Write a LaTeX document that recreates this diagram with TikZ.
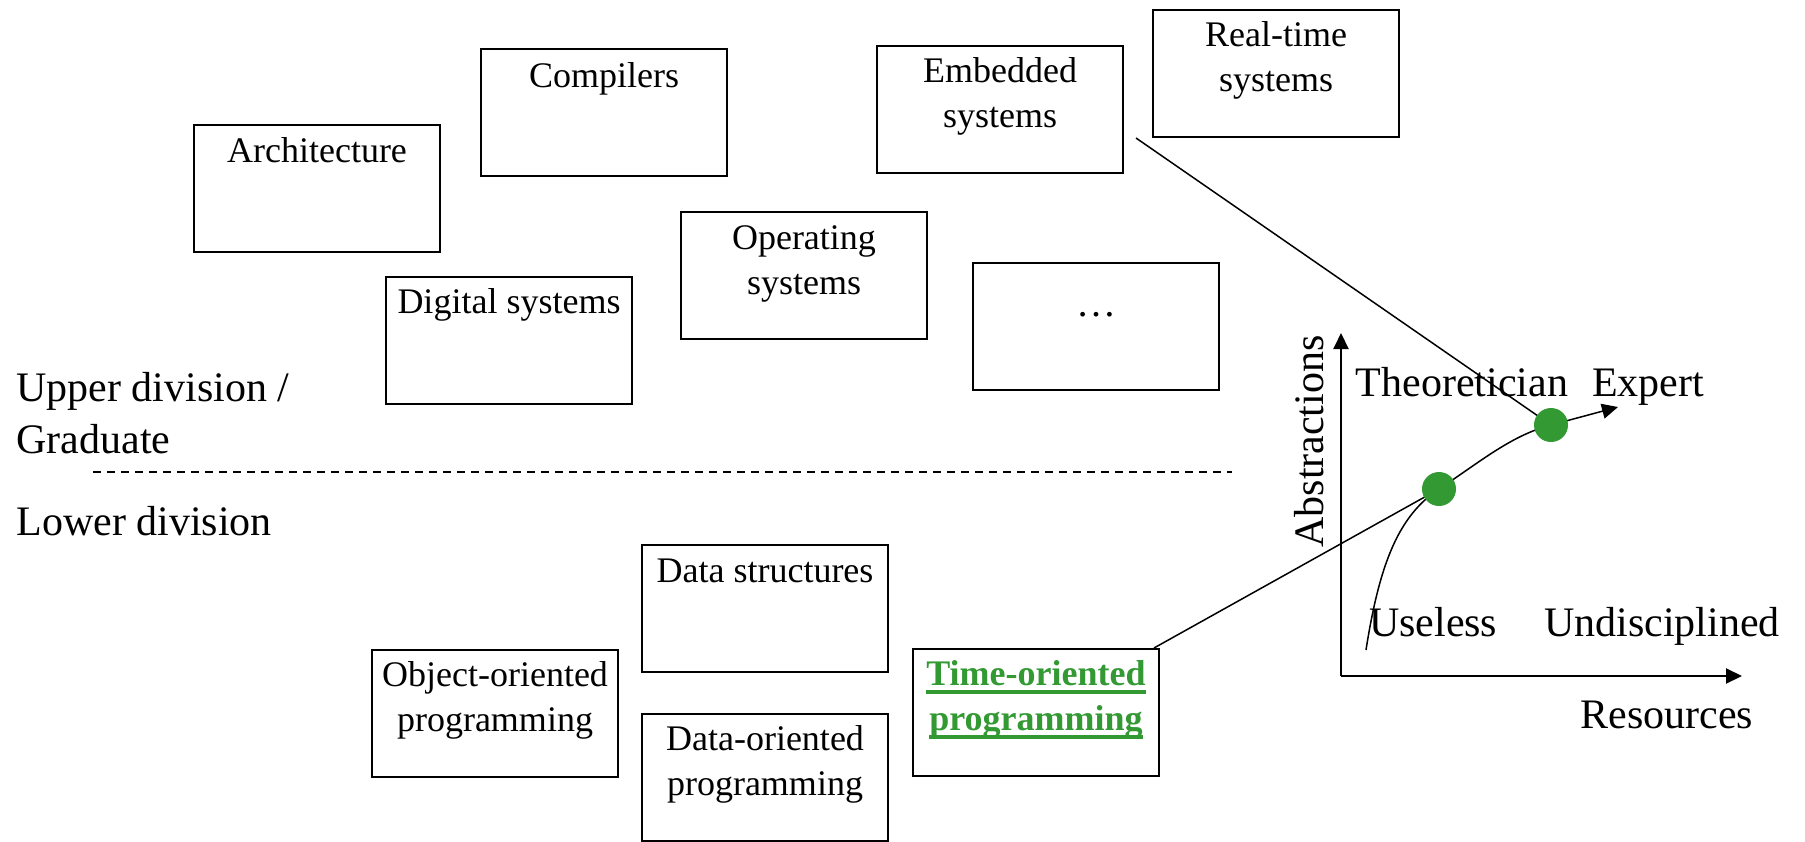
\documentclass[tikz,border=0pt]{standalone}
\usepackage{fontspec}
\setmainfont{Liberation Serif}
\usetikzlibrary{calc,arrows.meta}
\definecolor{tgreen}{HTML}{339933}
% top-aligned stack of centred lines
\newcommand{\stk}[1]{\begin{tabular}[t]{@{}c@{}}#1\end{tabular}}
% thick underline drawn through the descenders
\newcommand{\gul}[1]{\setbox0\hbox{#1}\rlap{\rule[-4.3pt]{\wd0}{1.8pt}}\box0}
\tikzset{
  box/.style={draw, line width=1pt, minimum width=123pt, minimum height=63.5pt,
              inner sep=0pt, anchor=north west},
  boxtxt/.style={anchor=base, inner sep=0pt, font=\fontsize{18}{22.5}\selectfont},
  lbl/.style={anchor=base west, inner sep=0pt, font=\fontsize{21}{25.5}\selectfont},
  conn/.style={line width=0.75pt},
  axis/.style={line width=1pt, -{Triangle[length=8pt,width=7.5pt]}},
  dot/.style={circle, fill=tgreen, minimum size=17pt, inner sep=0pt},
}
\begin{document}
\begin{tikzpicture}[x=0.5pt, y=-0.5pt]
\useasboundingbox (0,0) rectangle (1805,841);

% upper-division courses
\node[box] (arch) at (193,124) {};
\node[boxtxt] (archT) at ($(arch.north)+(0,38)$) {Architecture};
\node[box] (comp) at (480,48) {};
\node[boxtxt] (compT) at ($(comp.north)+(0,39)$) {Compilers};
\node[box] (emb) at (876,45) {};
\node[boxtxt] (embT) at ($(emb.north)+(0,37)$) {\stk{Embedded\\systems}};
\node[box] (rts) at (1152,9) {};
\node[boxtxt] (rtsT) at ($(rts.north)+(0,37)$) {\stk{Real-time\\systems}};
\node[box] (os) at (680,211) {};
\node[boxtxt] (osT) at ($(os.north)+(0,38)$) {\stk{Operating\\systems}};
\node[box] (dig) at (385,276) {};
\node[boxtxt] (digT) at ($(dig.north)+(0,37)$) {Digital systems};
\node[box] (more) at (972,262) {};
\node[boxtxt, font=\fontsize{20}{24}\selectfont] (moreT) at ($(more.north)+(0,54)$) {\ldots};

% division labels and separator
\node[lbl] (upper) at (16,401.7) {Upper division /};
\node[lbl] (grad) at (16,453) {Graduate};
\node[lbl] (lower) at (16,535.7) {Lower division};
\coordinate (sepL) at (93,472);
\coordinate (sepR) at (1232,472);
\draw[line width=1pt, dash pattern=on 4pt off 3pt] (sepL) -- (sepR);

% lower-division courses
\node[box] (ds) at (641,544) {};
\node[boxtxt] (dsT) at ($(ds.north)+(0,38)$) {Data structures};
\node[box] (oop) at (371,649) {};
\node[boxtxt] (oopT) at ($(oop.north)+(0,37)$) {\stk{Object-oriented\\programming}};
\node[box] (dop) at (641,713) {};
\node[boxtxt] (dopT) at ($(dop.north)+(0,37)$) {\stk{Data-oriented\\programming}};
\node[box] (top) at (912,648) {};
\node[boxtxt, text=tgreen, font=\fontsize{18}{22.5}\selectfont\bfseries] (topT)
  at ($(top.north)+(0,37)$) {\stk{\gul{Time-oriented}\\\gul{programming}}};

% skill graph
\coordinate (O) at (1341,676);
\coordinate (yEnd) at (1341,333);
\coordinate (xEnd) at (1742,676);
\draw[axis] (O) -- (yEnd);
\draw[axis] (O) -- (xEnd);

\coordinate (dotA) at (1439,489);
\coordinate (dotB) at (1551,425);
\coordinate (cStart) at (1366,650);
\coordinate (cEnd) at (1618,407);
\draw[conn, -{Triangle[length=8pt,width=7.5pt]}] (cStart)
  .. controls (1380,560) and (1400,515) .. (dotA)
  .. controls (1480,462) and (1511,435.5) .. (dotB) -- (cEnd);

\coordinate (embOut) at ($(emb.south east)+(12,-36)$);
\coordinate (topOut) at ($(top.north east)+(-6,0)$);
\draw[conn] (embOut) -- (dotB);
\draw[conn] (topOut) -- (dotA);

\node[dot] (dA) at (dotA) {};
\node[dot] (dB) at (dotB) {};

\node[lbl] (theo) at (1355.5,396.7) {Theoretician};
\node[lbl] (expt) at (1591.6,396.7) {Expert};
\node[lbl] (usel) at (1368.6,636.7) {Useless};
\node[lbl] (undis) at (1543.8,636.7) {Undisciplined};
\node[lbl] (res) at (1580,728.3) {Resources};
\node[lbl, anchor=base, rotate=90] (abs) at (1323,441.5) {Abstractions};
\end{tikzpicture}
\end{document}
